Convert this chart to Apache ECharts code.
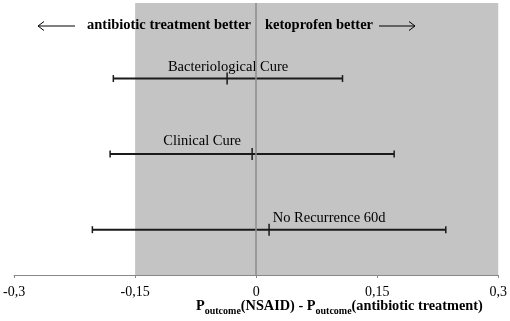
<!DOCTYPE html>
<html>
<head>
<meta charset="utf-8">
<script src="https://cdn.jsdelivr.net/npm/echarts@6/dist/echarts.min.js"></script>
<style>html,body{margin:0;padding:0;background:#fff}#c{width:510px;height:321px}</style>
</head>
<body>
<div id="c"></div>
<script>
var categories = ['Bacteriological Cure', 'Clinical Cure', 'No Recurrence 60d'];
var lower = [-0.177, -0.181, -0.203];
var estimate = [-0.036, -0.005, 0.016];
var upper = [0.107, 0.171, 0.235];
var rowPos = [2.6, 1.6, 0.6];
var tickValues = [-0.3, -0.15, 0, 0.15, 0.3];
var shadeRange = [-0.15, 0.3];

var labelOffsets = [[1, -11], [-50, -13], [60, -11]];

var chart = echarts.init(document.getElementById('c'), null, {renderer: 'canvas'});
var serif = '"Liberation Serif", "Times New Roman", serif';

var data = categories.map(function (c, i) {
  return [rowPos[i], lower[i], estimate[i], upper[i], i];
});

chart.setOption({
  animation: false,
  grid: {left: 12, right: 10, top: 3, bottom: 46},
  xAxis: {
    type: 'value', min: -0.3, max: 0.3, interval: 0.15,
    axisLine: {show: true, onZero: false, lineStyle: {color: '#888', width: 1}},
    axisTick: {show: true, length: 3, lineStyle: {color: '#888'}},
    splitLine: {show: false},
    axisLabel: {
      fontFamily: serif, fontSize: 14, color: '#000', margin: 10,
      formatter: function (v) {
        var m = tickValues.filter(function (t) { return Math.abs(t - v) < 1e-9; });
        if (!m.length) return '';
        return String(m[0]).replace('.', ',');
      }
    }
  },
  yAxis: {type: 'value', min: 0, max: 3.6, show: false},
  series: [{
    type: 'custom',
    data: data,
    encode: {x: [1, 2, 3], y: 0},
    renderItem: function (params, api) {
      var y = api.value(0);
      var lo = api.coord([api.value(1), y]);
      var mid = api.coord([api.value(2), y]);
      var hi = api.coord([api.value(3), y]);
      var idx = api.value(4);
      var st = {stroke: '#1a1a1a', lineWidth: 2};
      var off = labelOffsets[idx];
      return {
        type: 'group',
        children: [
          {type: 'line', shape: {x1: lo[0], y1: lo[1], x2: hi[0], y2: hi[1]}, style: st},
          {type: 'line', shape: {x1: lo[0], y1: lo[1] - 3.5, x2: lo[0], y2: lo[1] + 3.5}, style: {stroke: '#1a1a1a', lineWidth: 1.5}},
          {type: 'line', shape: {x1: hi[0], y1: hi[1] - 3.5, x2: hi[0], y2: hi[1] + 3.5}, style: {stroke: '#1a1a1a', lineWidth: 1.5}},
          {type: 'line', shape: {x1: mid[0], y1: mid[1] - 6, x2: mid[0], y2: mid[1] + 6}, style: {stroke: '#1a1a1a', lineWidth: 1.5}},
          {type: 'text', style: {
            text: categories[idx], x: mid[0] + off[0], y: mid[1] + off[1],
            align: 'center', verticalAlign: 'middle',
            font: '14.5px ' + serif, fill: '#000'
          }}
        ]
      };
    },
    markArea: {
      silent: true,
      itemStyle: {color: '#c4c4c4'},
      data: [[{xAxis: shadeRange[0], yAxis: 0}, {xAxis: shadeRange[1], yAxis: 3.6}]]
    },
    markLine: {
      silent: true, symbol: 'none',
      label: {show: false},
      lineStyle: {color: '#8c8c8c', type: 'solid', width: 1.5},
      data: [{xAxis: 0}]
    },
    z: 3
  }],
  graphic: [
    {type: 'text', z: 100, left: 87, top: 18, style: {text: 'antibiotic treatment better', font: 'bold 14.5px ' + serif, fill: '#000'}},
    {type: 'text', z: 100, left: 265, top: 18, style: {text: 'ketoprofen better', font: 'bold 14.5px ' + serif, fill: '#000'}},
    {type: 'line', z: 100, shape: {x1: 38, y1: 26, x2: 75, y2: 26}, style: {stroke: '#000', lineWidth: 1}},
    {type: 'polyline', z: 100, shape: {points: [[44, 21.5], [38, 26], [44, 30.5]]}, style: {stroke: '#000', lineWidth: 1, fill: null}},
    {type: 'line', z: 100, shape: {x1: 379, y1: 26, x2: 415, y2: 26}, style: {stroke: '#000', lineWidth: 1}},
    {type: 'polyline', z: 100, shape: {points: [[409, 21.5], [415, 26], [409, 30.5]]}, style: {stroke: '#000', lineWidth: 1, fill: null}},
    {type: 'text', z: 100, left: 196, top: 299, style: {
      text: '{b|P}{s|outcome}{b|(NSAID) - P}{s|outcome}{b|(antibiotic treatment)}',
      rich: {
        b: {font: 'bold 14.3px ' + serif, fill: '#000', verticalAlign: 'bottom', lineHeight: 17},
        s: {font: 'bold 10px ' + serif, fill: '#000', verticalAlign: 'bottom', lineHeight: 13, padding: [0, 0, -3, 0]}
      }
    }}
  ]
});
</script>
</body>
</html>
